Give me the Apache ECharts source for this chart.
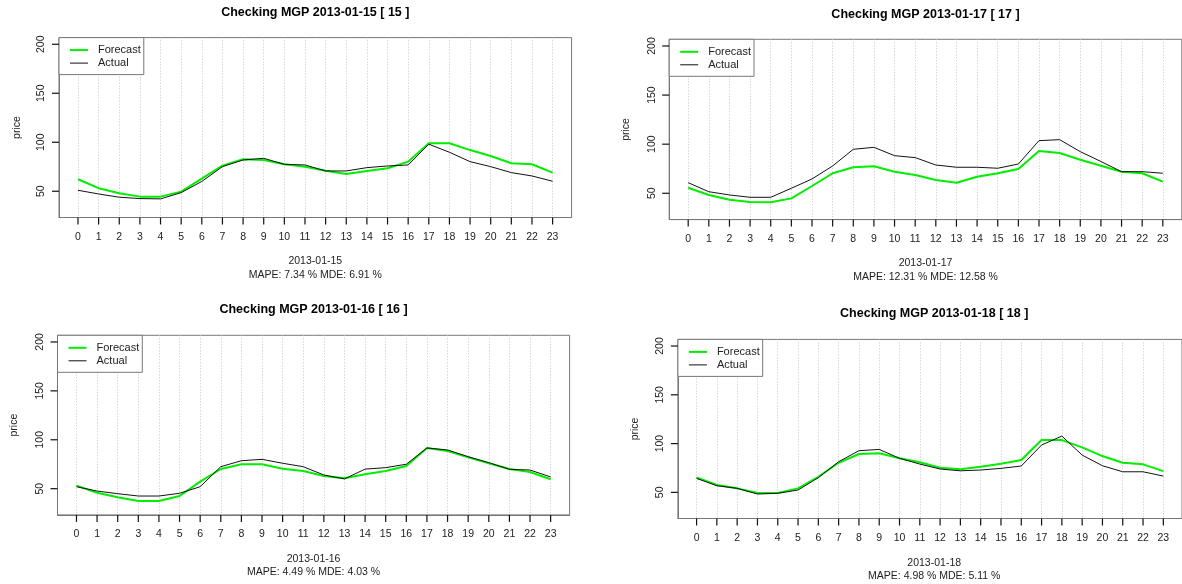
<!DOCTYPE html>
<html><head><meta charset="utf-8">
<script src="https://cdn.jsdelivr.net/npm/echarts@6/dist/echarts.min.js"></script>
<style>html,body{margin:0;padding:0;background:#fff}#c{width:1182px;height:584px;background:#fff}</style>
</head><body><div id="c"></div>
<script>
// ---------- data ----------
const hours = [0,1,2,3,4,5,6,7,8,9,10,11,12,13,14,15,16,17,18,19,20,21,22,23];
const yTicks = [50, 100, 150, 200];
const seriesNames = ['Forecast', 'Actual'];
const yAxisTitle = 'price';
const titles = ['Checking MGP 2013-01-15 [ 15 ]', 'Checking MGP 2013-01-17 [ 17 ]',
                'Checking MGP 2013-01-16 [ 16 ]', 'Checking MGP 2013-01-18 [ 18 ]'];
const dates = ['2013-01-15', '2013-01-17', '2013-01-16', '2013-01-18'];
const errorTexts = ['MAPE: 7.34 % MDE: 6.91 %', 'MAPE: 12.31 % MDE: 12.58 %',
                    'MAPE: 4.49 % MDE: 4.03 %', 'MAPE: 4.98 % MDE: 5.11 %'];
const forecast15 = [62.2,53.1,48,44.5,44.5,49.6,62.9,76.1,82.6,81.9,77.5,75.1,71,67.6,70.7,73.4,80.2,99,99,92,86,78.6,77.5,69];
const actual15   = [51,47.2,43.9,42.5,42.2,48.6,60,75.1,81.9,83.6,77.5,76.8,70.7,70.7,74.1,75.8,76.8,98,89.8,80.2,75.1,69,65.6,60.2];
const forecast17 = [55.7,48.3,43.5,41.1,40.8,44.8,57.4,70.4,76.5,77.5,72,68.6,63.5,60.8,66.9,70.4,74.8,93.1,91,84.2,78,72,70.4,61.8];
const actual17   = [60.8,51.6,48.3,45.9,45.9,55.1,64.6,77.8,94.8,96.8,88.3,86.3,78.8,76.5,76.5,75.5,79.8,103.6,104.6,92.4,82.4,72,72,70.4];
const forecast16 = [53.1,45.9,41.2,37.4,37.4,42.5,57.2,70.1,75,75,70.4,68.1,63,60.6,64.7,68.1,73.2,91.6,88.6,82.1,76,70.1,67,59.6];
const actual16   = [52,47.6,44.9,42.5,42.5,45.3,52,72.5,78.6,80,76,72.5,64,60,70,71.5,75,91.6,89.6,82.7,76.6,69.8,69.1,62];
const forecast18 = [65.4,57.5,54.1,49.3,49.3,54.1,66,80.3,89.3,90,84.9,80.8,75.2,73.6,76.2,79.3,83.1,103.6,103.6,96.1,87.2,80.4,78.7,71.8];
const actual18   = [64.3,56.8,54.1,48.3,49,52.4,65,81.4,92.7,94,84.9,79,73.9,72.1,72.9,74.6,77,98.5,107.7,88.2,77.3,71.1,71.1,66.7];
const forecasts = [forecast15, forecast17, forecast16, forecast18];
const actuals = [actual15, actual17, actual16, actual18];

// ---------- layout ----------
const grids = [
  {left: 59.0, top: 37.6, width: 512.6, height: 179.9},
  {left: 669.2, top: 39.3, width: 512.6, height: 180.3},
  {left: 57.5, top: 335.3, width: 512.1, height: 179.6},
  {left: 677.9, top: 339.4, width: 512.6, height: 179.1}
];
const X_MIN = -0.92, X_MAX = 23.92, Y_MIN = 23.2, Y_MAX = 206.8;
const titleY = [13, 15, 310.3, 314.3];
const subTitleY = [261, 263.3, 558.7, 562.7];
const priceX = [17, 626, 14.3, 635.5];
const FONT = '"Liberation Sans", Arial, Helvetica, sans-serif';
const TXT = '#222';
const BOX = '#777';
const TICK_LEN = 7;

const option = {
  animation: false,
  title: grids.map((g, i) => ({
    text: titles[i], left: g.left + g.width / 2, top: titleY[i] - 7, textAlign: 'center', padding: 0,
    textStyle: {fontFamily: FONT, fontSize: 12.5, fontWeight: 'bold', color: '#000'}
  })).concat(grids.map((g, i) => ({
    text: dates[i] + '\n' + errorTexts[i], left: g.left + g.width / 2, top: subTitleY[i] - 6.5,
    textAlign: 'center', padding: 0,
    textStyle: {fontFamily: FONT, fontSize: 10.5, fontWeight: 'normal', color: TXT, lineHeight: 13.5}
  }))),
  graphic: grids.map((g, i) => ({
    type: 'text', x: priceX[i], y: g.top + g.height / 2, rotation: Math.PI / 2, silent: true,
    style: {text: yAxisTitle, fontFamily: FONT, fontSize: 10.5, fill: TXT, align: 'center', verticalAlign: 'middle'}
  })),
  grid: grids.map(g => ({left: g.left, top: g.top, width: g.width, height: g.height,
    show: true, borderColor: BOX, borderWidth: 1})),
  legend: grids.map(g => ({
    left: g.left, top: g.top, orient: 'vertical', selectedMode: false,
    data: [{name: seriesNames[0], lineStyle: {width: 2}}, {name: seriesNames[1], lineStyle: {width: 1}}],
    itemWidth: 18, itemHeight: 13, itemGap: 0, padding: [6, 3, 5, 10],
    itemStyle: {opacity: 0},
    borderColor: BOX, borderWidth: 1, borderRadius: 0, backgroundColor: '#fff',
    textStyle: {fontFamily: FONT, fontSize: 11, color: TXT, lineHeight: 13, padding: [0, 0, 0, 5]}
  })),
  xAxis: grids.map((g, i) => ({
    gridIndex: i, type: 'value', min: X_MIN, max: X_MAX,
    axisLine: {show: true, onZero: false, lineStyle: {color: BOX, width: 1}},
    axisTick: {show: false, customValues: hours},
    axisLabel: {show: true, customValues: hours, margin: 14, fontFamily: FONT, fontSize: 10.5, color: TXT},
    splitLine: {show: true, lineStyle: {color: '#c4c4c4', type: [1, 2], width: 1}}
  })),
  yAxis: grids.map((g, i) => ({
    gridIndex: i, type: 'value', min: Y_MIN, max: Y_MAX,
    axisLine: {show: true, onZero: false, lineStyle: {color: BOX, width: 1}},
    axisTick: {show: false, customValues: yTicks},
    axisLabel: {show: true, customValues: yTicks, rotate: 90, margin: 12, fontFamily: FONT, fontSize: 10.5, color: TXT},
    splitLine: {show: false}
  })),
  series: []
};
grids.forEach((g, i) => {
  option.series.push({
    type: 'line', name: seriesNames[0], xAxisIndex: i, yAxisIndex: i, symbol: 'none', silent: true, z: 2,
    data: hours.map((h, k) => [h, forecasts[i][k]]),
    lineStyle: {color: '#00ee00', width: 2}, itemStyle: {color: '#00ee00'}
  });
  option.series.push({
    type: 'line', name: seriesNames[1], xAxisIndex: i, yAxisIndex: i, symbol: 'none', silent: true, z: 3,
    data: hours.map((h, k) => [h, actuals[i][k]]),
    lineStyle: {color: '#111', width: 1}, itemStyle: {color: '#111'}
  });
  // x-axis tick marks (outside the box, below it), placed through the axis scale
  option.series.push({
    type: 'custom', name: 'xticks' + i, xAxisIndex: i, yAxisIndex: i, silent: true, clip: false, z: 4,
    data: hours.map(h => [h]),
    renderItem: (params, api) => {
      const p = api.coord([api.value(0), Y_MIN]);
      return {type: 'line', shape: {x1: p[0], y1: p[1], x2: p[0], y2: p[1] + TICK_LEN},
              style: {stroke: '#111', lineWidth: 1.2}};
    }
  });
  // y-axis tick marks (outside the box, left of it)
  option.series.push({
    type: 'custom', name: 'yticks' + i, xAxisIndex: i, yAxisIndex: i, silent: true, clip: false, z: 4,
    data: yTicks.map(v => [v]),
    renderItem: (params, api) => {
      const p = api.coord([X_MIN, api.value(0)]);
      return {type: 'line', shape: {x1: p[0], y1: p[1], x2: p[0] - TICK_LEN, y2: p[1]},
              style: {stroke: '#111', lineWidth: 1.2}};
    }
  });
});
const chart = echarts.init(document.getElementById('c'));
chart.setOption(option);
</script></body></html>
